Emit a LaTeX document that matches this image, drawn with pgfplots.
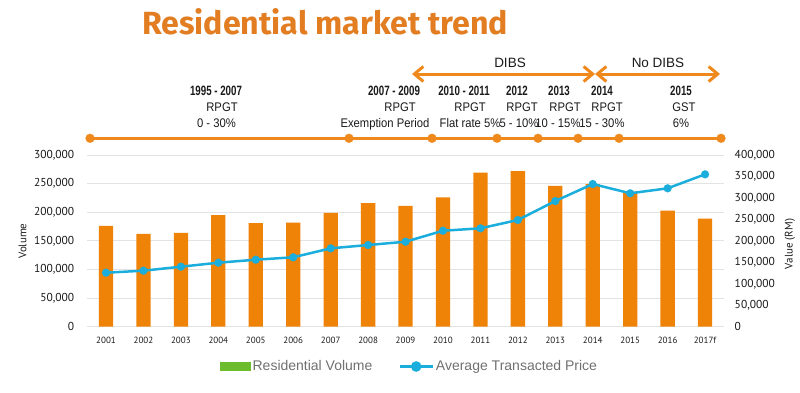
\documentclass[border=0pt]{standalone}
\usepackage{pgfplots}
\pgfplotsset{compat=1.18}
\usepackage{fontspec}
\usepackage{graphicx}
\usetikzlibrary{arrows.meta}
\setmainfont{PT Sans}
\newfontfamily\lib{Liberation Sans}
\newfontfamily\fira{Fira Sans}
\definecolor{barorange}{HTML}{EE8307}
\definecolor{lineorange}{HTML}{F0891C}
\definecolor{titleorange}{HTML}{E27D22}
\definecolor{cyanline}{HTML}{1BAEDC}
\definecolor{leggreen}{HTML}{6CBD2D}
\definecolor{leggray}{HTML}{707070}
\definecolor{gridgray}{HTML}{E3E3E3}
\definecolor{anntext}{HTML}{1A1A1A}
\newcommand{\yr}[1]{\scalebox{0.72}[1]{\lib\bfseries\fontsize{13.5}{15}\selectfont #1}}
\newcommand{\ann}[1]{\scalebox{0.9}[1]{\lib\fontsize{12.5}{14}\selectfont #1}}

\begin{document}
\begin{tikzpicture}
\useasboundingbox (-87.3pt,-65.3pt) rectangle (712.7pt,326.7pt);
\begin{axis}[
  at={(0pt,0pt)}, anchor=south west, scale only axis,
  width=636.5pt, height=171.7pt,
  xmin=-0.5, xmax=16.5, ymin=0, ymax=300000, clip=false,
  xtick={0,...,16},
  xticklabels={2001,2002,2003,2004,2005,2006,2007,2008,2009,2010,2011,2012,2013,2014,2015,2016,2017f},
  ytick={0,50000,...,300000},
  scaled y ticks=false,
  tick pos=left,
  axis line style={draw=none}, major tick length=0pt,
  ymajorgrids, grid style={gridgray, line width=0.8pt},
  xticklabel style={yshift=-7pt, font=\fontsize{9}{11}\selectfont, text=anntext},
  yticklabel style={xshift=-9.5pt, font=\fontsize{11.5}{13}\selectfont, text=anntext,
    /pgf/number format/.cd, fixed, 1000 sep={,}, assume math mode=true},
  ylabel={Volume},
  ylabel style={at={(axis description cs:-0.1018,0.499)}, anchor=center, font=\fontsize{11}{13}\selectfont, text=anntext},
]
\addplot[ybar, bar width=14.3pt, fill=barorange, draw=none] coordinates {
(0,176000) (1,162000) (2,164000) (3,195000) (4,181000) (5,182000) (6,199000)
(7,216000) (8,211000) (9,226000) (10,269000) (11,272000) (12,246000)
(13,249000) (14,236000) (15,203000) (16,189000)};
% timeline
\addplot[lineorange, line width=3pt, sharp plot, mark=*, mark size=4.5pt,
  mark options={solid, line width=0.1pt, fill=lineorange}, forget plot] coordinates {
(-0.427,329200) (6.490,329200) (8.707,329200) (10.443,329200) (11.538,329200)
(12.607,329200) (13.702,329200) (16.426,329200)};
\end{axis}

\begin{axis}[
  at={(0pt,0pt)}, anchor=south west, scale only axis,
  width=636.5pt, height=171.7pt,
  xmin=-0.5, xmax=16.5, ymin=0, ymax=400000,
  axis x line=none, axis y line*=right,
  axis line style={draw=none}, major tick length=0pt,
  ytick={0,50000,...,400000},
  scaled y ticks=false,
  yticklabel style={xshift=7.4pt, font=\fontsize{11.5}{13}\selectfont, text=anntext,
    /pgf/number format/.cd, fixed, 1000 sep={,}, assume math mode=true},
  ylabel={Value (RM)},
  ylabel style={at={(axis description cs:1.104,0.4817)}, anchor=center, font=\fontsize{11}{13}\selectfont, text=anntext},
  legend columns=2,
  legend style={at={(axis description cs:0.2085,-0.2318)}, anchor=west,
    draw=none, fill=none, inner sep=0pt,
    font=\lib\fontsize{14}{16}\selectfont, text=leggray,
    /tikz/every even column/.append style={column sep=24pt}},
  legend cell align=left,
]
\addlegendimage{legend image code/.code={\fill[leggreen] (0pt,-4pt) rectangle (30pt,4pt);}}
\addplot[cyanline, line width=2.5pt, mark=*, mark size=4pt,
  mark options={solid, line width=0.1pt, fill=cyanline},
  legend image code/.code={\draw[cyanline, line width=2.5pt] (0pt,0pt) -- (33pt,0pt); \fill[cyanline] (16.5pt,0pt) circle (4pt);}]
  coordinates {
(0,125800) (1,130500) (2,139800) (3,149100) (4,156100) (5,161700) (6,182600)
(7,190300) (8,198000) (9,223600) (10,229200) (11,248600) (12,292800)
(13,332400) (14,310800) (15,322400) (16,355000)};
\legend{Residential Volume, Average Transacted Price}
\end{axis}

\begin{scope}[x=1pt, y=-1pt, shift={(-87.3pt,326.7pt)}]
\node[anchor=base west, inner sep=0pt, text=titleorange] at (142,34.3)
  {\resizebox{366pt}{26pt}{\fira\bfseries Residential market trend}};
\draw[lineorange, line width=3pt, {Straight Barb[length=9pt,width=15pt]}-{Straight Barb[length=9pt,width=15pt]}] (412,74) -- (595,74);
\draw[lineorange, line width=3pt, {Straight Barb[length=9pt,width=15pt]}-{Straight Barb[length=9pt,width=15pt]}] (595,74) -- (720,74);
\begin{scope}[every node/.style={anchor=base, inner sep=0pt, text=anntext}]
\node at (510,67.3) {\lib\fontsize{13.5}{15}\selectfont DIBS};
\node at (658,67.3) {\lib\fontsize{13.5}{15}\selectfont No DIBS};
\node at (216,95) {\yr{1995 - 2007}};
\node at (222,111.7) {\ann{RPGT}};
\node at (216.5,127.3) {\ann{0 - 30\%}};
\node at (394,95) {\yr{2007 - 2009}};
\node at (400,111.7) {\ann{RPGT}};
\node at (385,127.3) {\ann{Exemption Period}};
\node at (464,95) {\yr{2010 - 2011}};
\node at (470,111.7) {\ann{RPGT}};
\node at (470,127.3) {\ann{Flat rate 5\%}};
\node at (517,95) {\yr{2012}};
\node at (522,111.7) {\ann{RPGT}};
\node at (519,127.3) {\ann{5 - 10\%}};
\node at (559,95) {\yr{2013}};
\node at (565,111.7) {\ann{RPGT}};
\node at (558,127.3) {\ann{10 - 15\%}};
\node at (602,95) {\yr{2014}};
\node at (607,111.7) {\ann{RPGT}};
\node at (602,127.3) {\ann{15 - 30\%}};
\node at (681,95) {\yr{2015}};
\node at (684,111.7) {\ann{GST}};
\node at (681,127.3) {\ann{6\%}};
\end{scope}
\end{scope}
\end{tikzpicture}
\end{document}
